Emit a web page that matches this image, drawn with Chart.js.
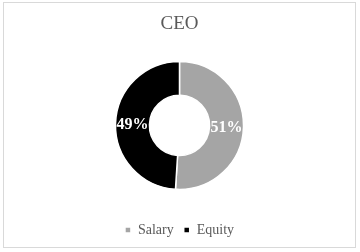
<!DOCTYPE html>
<html>
<head>
<meta charset="utf-8">
<script src="https://cdn.jsdelivr.net/npm/chart.js@4"></script>
<style>
  html, body { margin: 0; padding: 0; background: #fff; }
  #frame {
    position: absolute; left: 3px; top: 2px;
    width: 351px; height: 244px;
    border: 1px solid #d9d9d9;
  }
  #frame canvas { display: block; }
</style>
</head>
<body>
<div id="frame"><canvas id="ceoChart" width="351" height="244"></canvas></div>
<script>
// Data komposisi kompensasi CEO
const chartTitle = 'CEO';
const categories = ['Salary', 'Equity'];
const shares = [51, 49];
const sliceColors = ['#a5a5a5', '#000000'];

// label persen ditulis di tengah tiap irisan
const sliceLabels = {
    id: 'sliceLabels',
    afterDatasetsDraw(chart) {
        const { ctx } = chart;
        const meta = chart.getDatasetMeta(0);
        ctx.save();
        ctx.font = 'bold 16px "Liberation Serif", "Times New Roman", serif';
        ctx.fillStyle = '#ffffff';
        ctx.textAlign = 'center';
        ctx.textBaseline = 'middle';
        meta.data.forEach((arc, i) => {
            const pos = arc.tooltipPosition();
            ctx.fillText(shares[i] + '%', pos.x, pos.y + 1);
        });
        ctx.restore();
    }
};

new Chart(document.getElementById('ceoChart'), {
    type: 'doughnut',
    data: {
        labels: categories,
        datasets: [{
            data: shares,
            backgroundColor: sliceColors,
            borderColor: '#ffffff',
            borderWidth: 1.5,
        }],
    },
    options: {
        responsive: false,
        animation: false,
        cutout: '47%',
        radius: 64,
        layout: { padding: { top: 0, bottom: 0 } },
        plugins: {
            title: {
                display: true,
                text: chartTitle,
                color: '#595959',
                font: { family: '"Liberation Serif", "Times New Roman", serif', size: 19, weight: 'normal' },
                padding: { top: 10, bottom: 2 },
            },
            legend: {
                position: 'bottom',
                labels: {
                    color: '#595959',
                    font: { family: '"Liberation Serif", "Times New Roman", serif', size: 14 },
                    boxWidth: 6,
                    boxHeight: 6,
                    padding: 10,
                },
            },
            tooltip: { enabled: false },
        },
    },
    plugins: [sliceLabels],
});
</script>
</body>
</html>
